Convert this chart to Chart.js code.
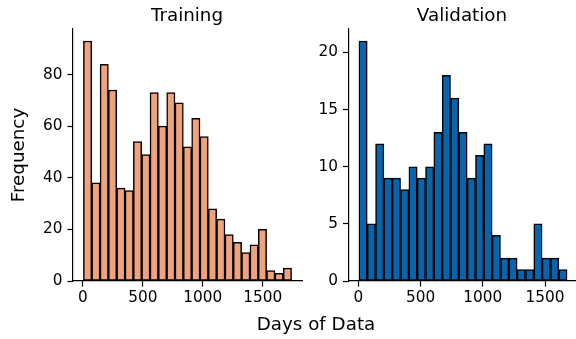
<!DOCTYPE html>
<html>
<head>
<meta charset="utf-8">
<script src="https://cdn.jsdelivr.net/npm/chart.js@4.4.0/dist/chart.umd.min.js"></script>
<style>
  body { margin: 0; background: #fff; width: 576px; height: 339px; position: relative; overflow: hidden; }
  canvas { position: absolute; top: 0; }
  .txt { position: absolute; font-family: "DejaVu Sans", sans-serif; font-size: 18.3px; line-height: 22px; color: #000; white-space: nowrap; transform: translateX(-50%); }
</style>
</head>
<body>
<canvas id="trainChart" width="310" height="339" style="left:0"></canvas>
<canvas id="valChart" width="280" height="339" style="left:300px"></canvas>
<div class="txt" style="left:187px; top:4px;">Training</div>
<div class="txt" style="left:462px; top:4px;">Validation</div>
<div class="txt" style="left:316px; top:313px;">Days of Data</div>

<script>
// histogram counts, 25 bins each
const trainCounts = [93, 38, 84, 74, 36, 35, 54, 49, 73, 60, 73, 69, 52, 63, 56, 28, 24, 18, 15, 11, 14, 20, 4, 3, 5];
const valCounts = [21, 5, 12, 9, 9, 8, 10, 9, 10, 13, 18, 16, 13, 9, 11, 12, 4, 2, 2, 1, 1, 5, 2, 2, 1];

// data range of each histogram (days)
const trainRange = [5, 1740];
const valRange = [5, 1677];

// tick labels
const xTicks = [0, 500, 1000, 1500];
const trainYTicks = [0, 20, 40, 60, 80];
const valYTicks = [0, 5, 10, 15, 20];

const trainColor = "#efa27e";
const valColor = "#0765ad";

// Turn counts into points at the bin centres
function binPoints(counts, range) {
  const width = (range[1] - range[0]) / counts.length;
  return counts.map((c, i) => ({ x: range[0] + width * (i + 0.5), y: c }));
}

function createHistogram(canvasId, counts, range, yTicks, color, yAxisWidth, padRight, yTitle) {
  const ctx = document.getElementById(canvasId).getContext("2d");
  const span = range[1] - range[0];
  const tickFont = { family: "DejaVu Sans", size: 15.3 };

  return new Chart(ctx, {
    type: "bar",
    data: {
      datasets: [
        {
          data: binPoints(counts, range),
          backgroundColor: color,
          borderColor: "#000",
          borderWidth: 1.5,
          borderSkipped: false,
          barPercentage: 1,
          categoryPercentage: 1,
        },
      ],
    },
    options: {
      responsive: false,
      animation: false,
      layout: { padding: { top: 29, right: padRight, bottom: 0, left: 0 } },
      plugins: { legend: { display: false }, tooltip: { enabled: false }, title: { display: false } },
      scales: {
        x: {
          type: "linear",
          offset: false,
          min: range[0] - span * 0.05,
          max: range[1] + span * 0.05,
          afterBuildTicks: (axis) => { axis.ticks = xTicks.map((v) => ({ value: v })); },
          afterFit: (axis) => { axis.height = 58; },
          ticks: { color: "#000", font: tickFont, padding: 2, maxRotation: 0, callback: (v) => String(v) },
          grid: { offset: false, drawOnChartArea: false, drawTicks: true, tickLength: 5.5, tickWidth: 1.2, tickColor: "#000" },
          border: { display: true, color: "#000", width: 1.2 },
        },
        y: {
          min: 0,
          max: Math.max(...counts) * 1.05,
          afterBuildTicks: (axis) => { axis.ticks = yTicks.map((v) => ({ value: v })); },
          afterFit: (axis) => { axis.width = yAxisWidth; },
          ticks: { color: "#000", font: tickFont, padding: 5, callback: (v) => String(v) },
          grid: { offset: false, drawOnChartArea: false, drawTicks: true, tickLength: 5.5, tickWidth: 1.2, tickColor: "#000" },
          border: { display: true, color: "#000", width: 1.2 },
          title: {
            display: !!yTitle,
            text: yTitle || "",
            color: "#000",
            font: { family: "DejaVu Sans", size: 18.3 },
            padding: { top: 8, bottom: 0 },
          },
        },
      },
    },
  });
}

createHistogram("trainChart", trainCounts, trainRange, trainYTicks, trainColor, 73, 8, "Frequency");
createHistogram("valChart", valCounts, valRange, valYTicks, valColor, 48.5, 2.5, null);
</script>
</body>
</html>
